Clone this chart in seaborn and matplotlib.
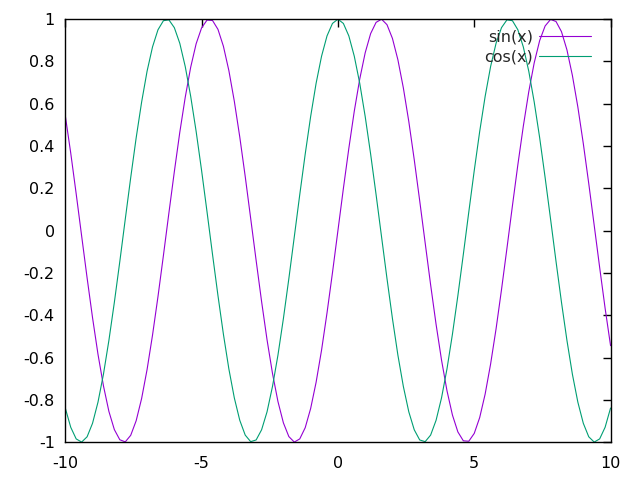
import numpy as np
import pandas as pd
import matplotlib
matplotlib.use("Agg")
import matplotlib.pyplot as plt
import seaborn as sns

# 데이터 (x = -10 .. 10, 간격 0.2)
x_vals = [
    -10.0, -9.8, -9.6, -9.4, -9.2, -9.0, -8.8, -8.6, -8.4, -8.2,
    -8.0, -7.8, -7.6, -7.4, -7.2, -7.0, -6.8, -6.6, -6.4, -6.2,
    -6.0, -5.8, -5.6, -5.4, -5.2, -5.0, -4.8, -4.6, -4.4, -4.2,
    -4.0, -3.8, -3.6, -3.4, -3.2, -3.0, -2.8, -2.6, -2.4, -2.2,
    -2.0, -1.8, -1.6, -1.4, -1.2, -1.0, -0.8, -0.6, -0.4, -0.2,
    0.0, 0.2, 0.4, 0.6, 0.8, 1.0, 1.2, 1.4, 1.6, 1.8,
    2.0, 2.2, 2.4, 2.6, 2.8, 3.0, 3.2, 3.4, 3.6, 3.8,
    4.0, 4.2, 4.4, 4.6, 4.8, 5.0, 5.2, 5.4, 5.6, 5.8,
    6.0, 6.2, 6.4, 6.6, 6.8, 7.0, 7.2, 7.4, 7.6, 7.8,
    8.0, 8.2, 8.4, 8.6, 8.8, 9.0, 9.2, 9.4, 9.6, 9.8,
    10.0,
]

sin_vals = [
    0.544, 0.367, 0.174, -0.025, -0.223, -0.412, -0.585, -0.734, -0.855, -0.941,
    -0.989, -0.999, -0.968, -0.899, -0.794, -0.657, -0.494, -0.312, -0.117, 0.083,
    0.279, 0.465, 0.631, 0.773, 0.884, 0.959, 0.996, 0.994, 0.952, 0.872,
    0.757, 0.612, 0.443, 0.256, 0.058, -0.141, -0.335, -0.516, -0.675, -0.808,
    -0.909, -0.974, -1.000, -0.985, -0.932, -0.841, -0.717, -0.565, -0.389, -0.199,
    0.000, 0.199, 0.389, 0.565, 0.717, 0.841, 0.932, 0.985, 1.000, 0.974,
    0.909, 0.808, 0.675, 0.516, 0.335, 0.141, -0.058, -0.256, -0.443, -0.612,
    -0.757, -0.872, -0.952, -0.994, -0.996, -0.959, -0.884, -0.773, -0.631, -0.465,
    -0.279, -0.083, 0.117, 0.312, 0.494, 0.657, 0.794, 0.899, 0.968, 0.999,
    0.989, 0.941, 0.855, 0.734, 0.585, 0.412, 0.223, 0.025, -0.174, -0.367,
    -0.544,
]

cos_vals = [
    -0.839, -0.930, -0.985, -1.000, -0.975, -0.911, -0.811, -0.679, -0.519, -0.339,
    -0.146, 0.054, 0.251, 0.439, 0.608, 0.754, 0.869, 0.950, 0.993, 0.997,
    0.960, 0.886, 0.776, 0.635, 0.469, 0.284, 0.088, -0.112, -0.307, -0.490,
    -0.654, -0.791, -0.897, -0.967, -0.998, -0.990, -0.942, -0.857, -0.737, -0.589,
    -0.416, -0.227, -0.029, 0.170, 0.362, 0.540, 0.697, 0.825, 0.921, 0.980,
    1.000, 0.980, 0.921, 0.825, 0.697, 0.540, 0.362, 0.170, -0.029, -0.227,
    -0.416, -0.589, -0.737, -0.857, -0.942, -0.990, -0.998, -0.967, -0.897, -0.791,
    -0.654, -0.490, -0.307, -0.112, 0.088, 0.284, 0.469, 0.635, 0.776, 0.886,
    0.960, 0.997, 0.993, 0.950, 0.869, 0.754, 0.608, 0.439, 0.251, 0.054,
    -0.146, -0.339, -0.519, -0.679, -0.811, -0.911, -0.975, -1.000, -0.985, -0.930,
    -0.839,
]

series_names = ["sin(x)", "cos(x)"]
series_colors = ["#9400d3", "#009e73"]
x_ticks = [-10, -5, 0, 5, 10]
x_tick_labels = ["-10", "-5", "0", "5", "10"]
y_ticks = [-1, -0.8, -0.6, -0.4, -0.2, 0, 0.2, 0.4, 0.6, 0.8, 1]
y_tick_labels = ["-1", "-0.8", "-0.6", "-0.4", "-0.2", "0", "0.2", "0.4", "0.6", "0.8", "1"]

df = pd.DataFrame({
    "x": x_vals * 2,
    "y": sin_vals + cos_vals,
    "func": [series_names[0]] * len(x_vals) + [series_names[1]] * len(x_vals),
})

sns.set_style("white")
plt.rcParams["font.family"] = ["DejaVu Sans"]

fig = plt.figure(figsize=(6.4, 4.8), dpi=100)
ax = fig.add_axes([0.102, 0.079, 0.852, 0.881])

sns.lineplot(data=df, x="x", y="y", hue="func", hue_order=series_names,
             palette=series_colors, linewidth=0.8, ax=ax, sort=False)

ax.set_xlim(-10, 10)
ax.set_ylim(-1, 1)
ax.set_xticks(x_ticks)
ax.set_xticklabels(x_tick_labels, fontsize=11.5)
ax.set_yticks(y_ticks)
ax.set_yticklabels(y_tick_labels, fontsize=11.5)
ax.set_xlabel("")
ax.set_ylabel("")

# gnuplot 스타일 눈금 (안쪽, 네 면 모두)
ax.tick_params(direction="in", length=6, width=1, top=True, right=True,
               colors="black")
ax.tick_params(axis="x", pad=10)
ax.tick_params(axis="y", pad=7.5)
for s in ax.spines.values():
    s.set_visible(True)
    s.set_color("black")
    s.set_linewidth(1.0)

ax.legend(loc="upper right", bbox_to_anchor=(0.965, 0.975), frameon=False,
          markerfirst=False, handlelength=3.3, handletextpad=0.35,
          labelspacing=0.28, borderaxespad=0, borderpad=0, fontsize=11.5)

plt.savefig("out.png", dpi=100)
plt.close()
